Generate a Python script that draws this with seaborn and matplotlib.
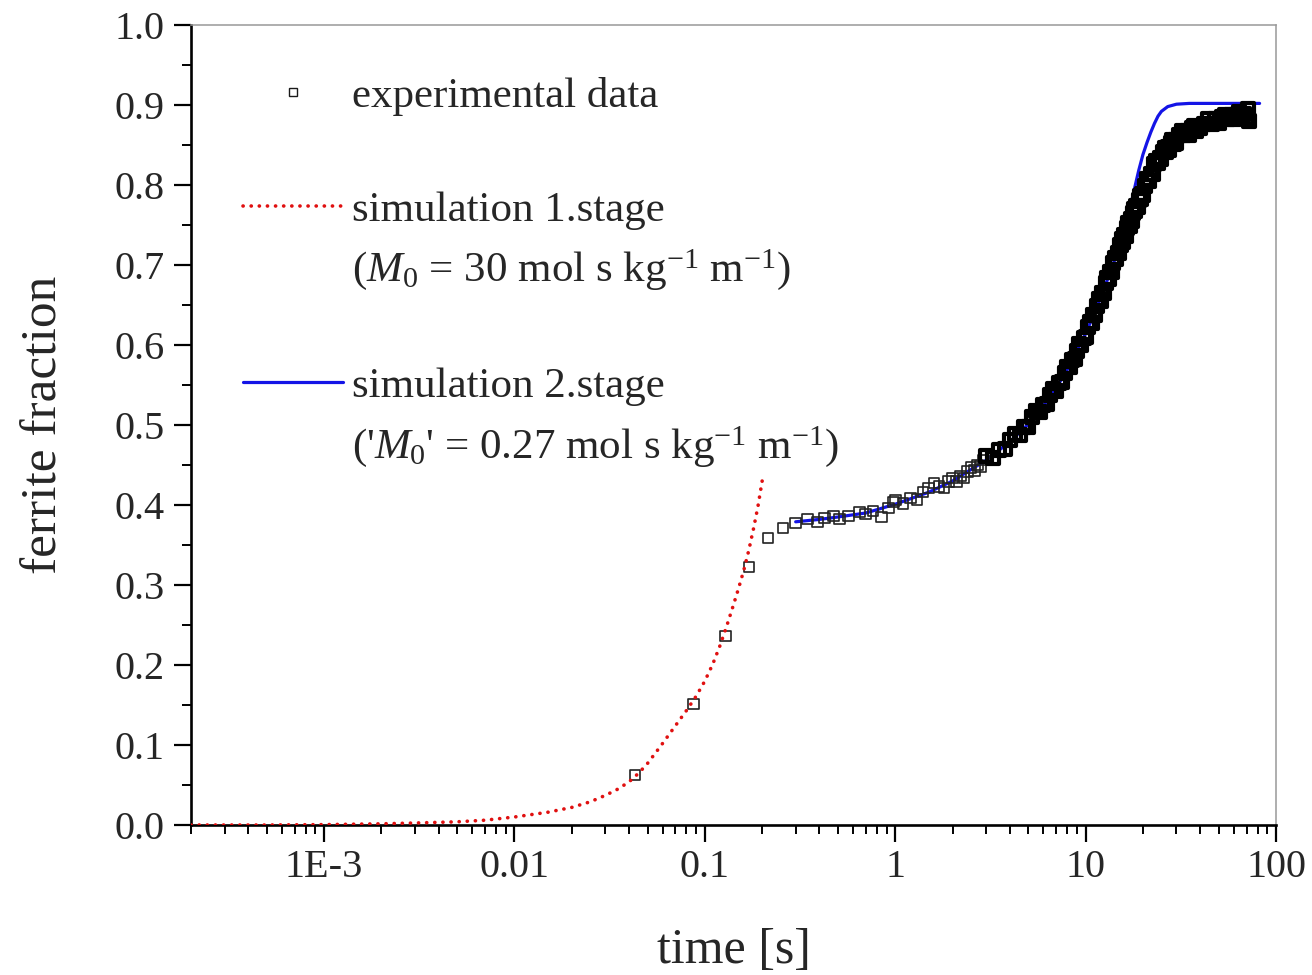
"""Ferrite fraction vs time: experiment and two-stage simulation"""
import matplotlib
matplotlib.use("Agg")
import matplotlib.pyplot as plt
from matplotlib.lines import Line2D
from matplotlib.ticker import LogLocator, MultipleLocator, NullFormatter
import seaborn as sns


# experimental data (time in s, ferrite fraction)
EXP_TIME = [0.043, 0.087, 0.128, 0.171, 0.215, 0.258, 0.299, 0.345, 0.39, 0.424,
            0.473, 0.508, 0.567, 0.647, 0.70, 0.766, 0.845, 0.92, 0.976,
            1.0, 1.1, 1.2, 1.3, 1.4, 1.5, 1.6, 1.7, 1.8, 1.9,
            2.0, 2.1, 2.2, 2.3, 2.4, 2.5, 2.6, 2.7, 2.8, 2.9,
            3.0, 3.25, 3.5, 3.75, 4.0, 4.25, 4.5, 4.75, 5.0, 5.25,
            5.5, 5.75, 6.0, 6.25, 6.5, 6.75, 7.0, 7.25, 7.5, 7.75,
            8.0, 8.25, 8.5, 8.75, 9.0, 9.25, 9.5, 9.75, 10.0, 10.25,
            10.5, 10.75, 11.0, 11.25, 11.5, 11.75, 12.0, 12.25, 12.5, 12.75,
            13.0, 13.25, 13.5, 13.75, 14.0, 14.25, 14.5, 14.75, 15.0, 15.25,
            15.5, 15.75, 16.0, 16.25, 16.5, 16.75, 17.0, 17.25, 17.5, 17.75,
            18.0, 18.25, 18.5, 18.75, 19.0, 19.25, 19.5, 19.75, 20.0, 20.5,
            21.0, 21.5, 22.0, 22.5, 23.0, 23.5, 24.0, 24.5, 25.0, 25.5,
            26.0, 26.5, 27.0, 27.5, 28.0, 28.5, 29.0, 29.5, 30.0, 31.0,
            32.0, 33.0, 34.0, 35.0, 36.0, 37.0, 38.0, 39.0, 40.0, 42.0,
            44.0, 46.0, 48.0, 50.0, 52.0, 54.0, 56.0, 58.0, 60.0, 62.0,
            64.0, 66.0, 68.0, 70.0, 71.0, 72.0]
EXP_FRAC = [0.0625, 0.151, 0.236, 0.3225, 0.359, 0.371, 0.3775, 0.3825, 0.379, 0.384,
            0.386, 0.3825, 0.386, 0.391, 0.389, 0.3925, 0.385, 0.396, 0.404,
            0.406, 0.402, 0.409, 0.407, 0.416, 0.421, 0.4275, 0.423, 0.421, 0.4295,
            0.434, 0.4295, 0.436, 0.4335, 0.442, 0.447, 0.443, 0.450, 0.448, 0.456,
            0.461, 0.459, 0.469, 0.470, 0.481, 0.489, 0.487, 0.497, 0.498, 0.510,
            0.517, 0.516, 0.525, 0.526, 0.537, 0.545, 0.543, 0.553, 0.554, 0.565,
            0.573, 0.572, 0.581, 0.582, 0.593, 0.601, 0.600, 0.609, 0.610, 0.622,
            0.629, 0.628, 0.637, 0.638, 0.649, 0.657, 0.655, 0.665, 0.665, 0.677,
            0.684, 0.682, 0.691, 0.691, 0.702, 0.709, 0.707, 0.715, 0.715, 0.725,
            0.732, 0.729, 0.737, 0.736, 0.746, 0.752, 0.749, 0.757, 0.755, 0.765,
            0.770, 0.767, 0.774, 0.772, 0.781, 0.786, 0.782, 0.789, 0.787, 0.799,
            0.807, 0.805, 0.814, 0.814, 0.826, 0.830, 0.827, 0.834, 0.832, 0.841,
            0.846, 0.841, 0.847, 0.844, 0.852, 0.856, 0.851, 0.856, 0.853, 0.862,
            0.867, 0.862, 0.868, 0.863, 0.871, 0.874, 0.868, 0.873, 0.871, 0.876,
            0.882, 0.876, 0.882, 0.878, 0.885, 0.888, 0.882, 0.887, 0.882, 0.888,
            0.891, 0.885, 0.889, 0.884, 0.895, 0.880]
N_SPARSE = 39   # points before 3 s are drawn as separate squares

# simulation 1. stage (M0 = 30)
SIM1_TIME = [2e-4, 5e-4, 1e-3, 2e-3, 3e-3, 5e-3, 7e-3, 0.01, 0.015, 0.02,
             0.025, 0.03, 0.035, 0.04, 0.045, 0.05, 0.055, 0.06, 0.07, 0.08,
             0.09, 0.1, 0.11, 0.12, 0.13, 0.14, 0.15, 0.16, 0.17, 0.18,
             0.19, 0.2]
SIM1_FRAC = [0.0, 0.0, 0.0005, 0.0015, 0.0025, 0.004, 0.006, 0.010, 0.016, 0.022,
             0.029, 0.037, 0.045, 0.054, 0.065, 0.077, 0.090, 0.102, 0.124, 0.143,
             0.161, 0.180, 0.201, 0.224, 0.248, 0.272, 0.295, 0.318, 0.343, 0.370,
             0.398, 0.430]

# simulation 2. stage ('M0' = 0.27)
SIM2_TIME = [0.3, 0.4, 0.5, 0.7, 1.0, 1.5, 2.0, 3.0, 4.0, 5.0,
             6.0, 7.0, 8.0, 10.0, 12.0, 14.0, 15.0, 16.0, 17.0, 18.0,
             19.0, 20.0, 21.0, 22.0, 23.0, 24.0, 25.0, 27.0, 30.0, 35.0,
             40.0, 60.0, 82.0]
SIM2_FRAC = [0.379, 0.382, 0.385, 0.390, 0.401, 0.416, 0.430, 0.456, 0.479, 0.501,
             0.524, 0.546, 0.569, 0.614, 0.659, 0.702, 0.722, 0.742, 0.768, 0.794,
             0.818, 0.838, 0.853, 0.866, 0.877, 0.886, 0.892, 0.898, 0.901, 0.902,
             0.902, 0.902, 0.902]

X_TICKS = [1e-3, 1e-2, 1e-1, 1, 10, 100]
X_TICKLABELS = ['1E-3', '0.01', '0.1', '1', '10', '100']
Y_TICKS = [0.0, 0.1, 0.2, 0.3, 0.4, 0.5, 0.6, 0.7, 0.8, 0.9, 1.0]

RED = '#e01010'
BLUE = '#1414e6'
DOTS = (0, (0.05, 2.2))


def plot_ferrite():
    sns.set_theme(style="ticks")
    plt.rcParams['font.family'] = ['Liberation Serif', 'DejaVu Serif']
    plt.rcParams['mathtext.fontset'] = 'custom'
    plt.rcParams['mathtext.rm'] = 'Liberation Serif'
    plt.rcParams['mathtext.it'] = 'Liberation Serif:italic'

    fig = plt.figure(figsize=(13.12, 9.75), dpi=100)
    ax = fig.add_axes([191 / 1312, 150 / 975, 1085 / 1312, 800 / 975])

    sns.lineplot(x=SIM2_TIME, y=SIM2_FRAC, ax=ax, color=BLUE, lw=2.3,
                 estimator=None, sort=False, zorder=2)
    # early, well separated measurements
    sns.scatterplot(x=EXP_TIME[:N_SPARSE], y=EXP_FRAC[:N_SPARSE], ax=ax,
                    marker='s', s=58, facecolor='none', edgecolor='#222222',
                    linewidth=1.2, zorder=3)
    # dense part of the measurement: overlapping squares form a black band
    sns.scatterplot(x=EXP_TIME[N_SPARSE:], y=EXP_FRAC[N_SPARSE:], ax=ax,
                    marker='s', s=75, facecolor='none', edgecolor='black',
                    linewidth=3.0, zorder=3)
    sns.lineplot(x=SIM1_TIME, y=SIM1_FRAC, ax=ax, color=RED, lw=2.6,
                 linestyle=DOTS, estimator=None, sort=False, zorder=4)
    ax.lines[-1].set_dash_capstyle('round')

    ax.set_xscale('log')
    ax.set_xlim(2e-4, 100)
    ax.set_ylim(0, 1)
    ax.set_xticks(X_TICKS, labels=X_TICKLABELS)
    ax.xaxis.set_minor_locator(LogLocator(base=10, subs=range(2, 10), numticks=20))
    ax.xaxis.set_minor_formatter(NullFormatter())
    ax.set_yticks(Y_TICKS, labels=[f"{v:.1f}" for v in Y_TICKS])
    ax.yaxis.set_minor_locator(MultipleLocator(0.05))

    ax.tick_params(which='major', direction='out', length=12, width=1.6,
                   labelsize=29, color='black')
    ax.tick_params(which='minor', direction='out', length=6.5, width=1.4,
                   color='black')
    ax.tick_params(axis='x', which='major', pad=5)
    ax.tick_params(axis='y', which='major', pad=7)

    for side in ['left', 'bottom']:
        ax.spines[side].set_linewidth(1.9)
        ax.spines[side].set_color('black')
    for side in ['top', 'right']:
        ax.spines[side].set_linewidth(1.1)
        ax.spines[side].set_color('#999999')

    ax.set_xlabel('time [s]', fontsize=36, labelpad=30)
    ax.set_ylabel('ferrite fraction', fontsize=37, labelpad=34)

    # legend: handles sit on the first line of each two-line entry
    blank = Line2D([], [], linestyle='none')
    exp_handle = Line2D([], [], linestyle='none', marker='s', markersize=5.5,
                        markerfacecolor='none', markeredgecolor='#1a1a1a',
                        markeredgewidth=1.0)
    sim1_handle = Line2D([], [], color=RED, lw=2.6, linestyle=DOTS,
                         dash_capstyle='round')
    sim2_handle = Line2D([], [], color=BLUE, lw=2.3)
    handles = [exp_handle, blank, sim1_handle, blank, blank, sim2_handle, blank]
    labels = ['experimental data',
              ' ',
              'simulation 1.stage',
              r'($M_0$ = 30 mol s kg$^{-1}$ m$^{-1}$)',
              ' ',
              'simulation 2.stage',
              r"('$M_0$' = 0.27 mol s kg$^{-1}$ m$^{-1}$)"]
    ax.legend(handles, labels, loc='upper left', bbox_to_anchor=(0.048, 0.935),
              frameon=False, fontsize=31, borderpad=0, borderaxespad=0,
              handlelength=2.33, handletextpad=0.2, labelspacing=0.41)

    fig.savefig("out.png", dpi=100)


if __name__ == "__main__":
    plot_ferrite()
